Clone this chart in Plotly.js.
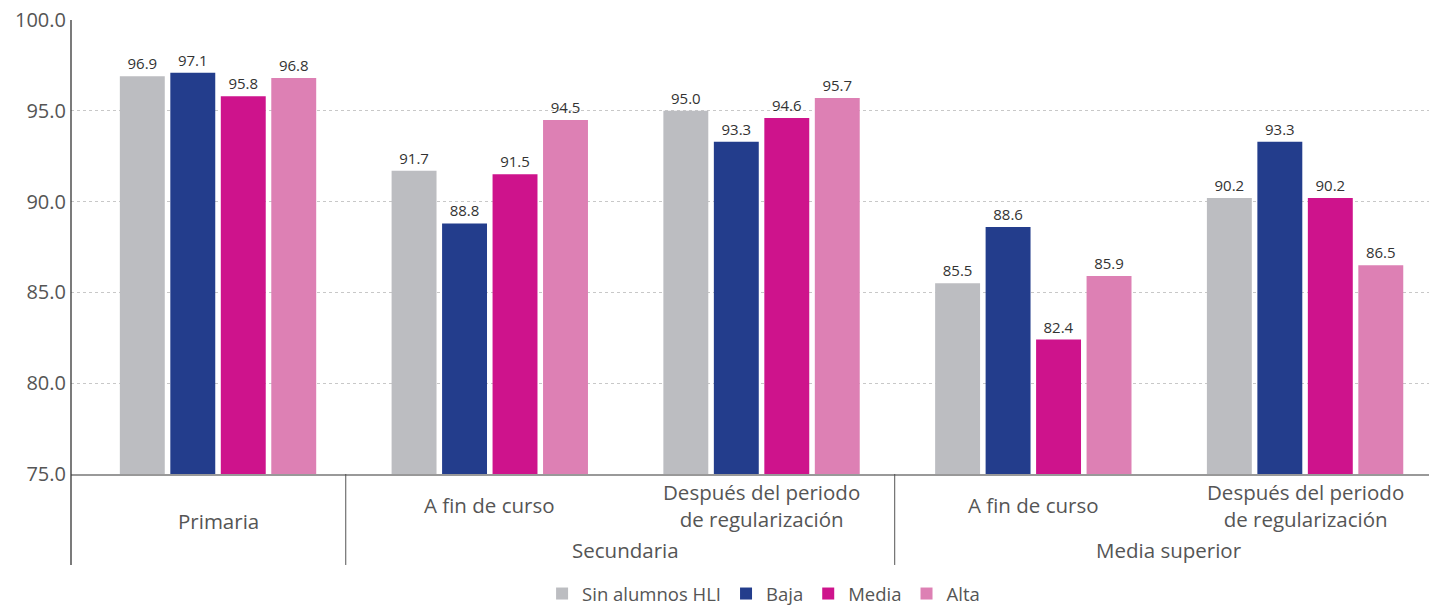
<!DOCTYPE html>
<html>
<head>
<meta charset="utf-8">
<script src="https://cdn.plot.ly/plotly-3.0.1.min.js"></script>
<style>html,body{margin:0;padding:0;background:#fff}#chart{width:1429px;height:613px}</style>
</head>
<body>
<div id="chart"></div>
<script>
// Category ids (unique) and their displayed labels
const categories = ["Primaria", "Secundaria|A fin de curso", "Secundaria|Después", "Media superior|A fin de curso", "Media superior|Después"];
const subLabels = ["Primaria", "A fin de curso", "Después del periodo<br>de regularización", "A fin de curso", "Después del periodo<br>de regularización"];
const groupLabels = ["Secundaria", "Media superior"];
const seriesNames = ["Sin alumnos HLI", "Baja", "Media", "Alta"];
const sinAlumnos = [96.9, 91.7, 95.0, 85.5, 90.2];
const baja       = [97.1, 88.8, 93.3, 88.6, 93.3];
const media      = [95.8, 91.5, 94.6, 82.4, 90.2];
const alta       = [96.8, 94.5, 95.7, 85.9, 86.5];
const yTicks = [75, 80, 85, 90, 95, 100];

const colors = ["#BCBDC1", "#233D8C", "#CE138C", "#DD80B4"];
const values = [sinAlumnos, baja, media, alta];
const FONT = "'Open Sans', sans-serif";
const LABEL_SIZE = 20.5;

const traces = values.map((v, i) => ({
  type: "bar",
  name: seriesNames[i],
  x: categories,
  y: v,
  marker: {color: colors[i]},
  text: v.map(n => n.toFixed(1)),
  textposition: "outside",
  textfont: {size: 15, color: "#333", family: FONT},
  cliponaxis: false,
  hoverinfo: "x+y"
}));

const belowLine = -0.2004;
const annotations = [];
subLabels.forEach((t, i) => {
  annotations.push({
    xref: "x", yref: "paper", x: categories[i],
    y: i === 0 ? -0.1035 : -0.069,
    text: t, showarrow: false, yanchor: "middle", xanchor: "center",
    font: {size: LABEL_SIZE, color: "#555", family: FONT}, align: "center"
  });
});
annotations.push({xref: "x", yref: "paper", x: 1.5, y: -0.167, text: groupLabels[0], showarrow: false, yanchor: "middle", font: {size: LABEL_SIZE, color: "#555", family: FONT}});
annotations.push({xref: "x", yref: "paper", x: 3.5, y: -0.167, text: groupLabels[1], showarrow: false, yanchor: "middle", font: {size: LABEL_SIZE, color: "#555", family: FONT}});

const shapes = [
  {type: "line", xref: "paper", yref: "paper", x0: 0, x1: 0, y0: 1, y1: belowLine, line: {color: "#333", width: 1.3}},
  {type: "line", xref: "x", yref: "paper", x0: 0.47, x1: 0.47, y0: 0, y1: belowLine, line: {color: "#555", width: 1}},
  {type: "line", xref: "x", yref: "paper", x0: 2.49, x1: 2.49, y0: 0, y1: belowLine, line: {color: "#555", width: 1}}
];

const layout = {
  width: 1429, height: 613,
  margin: {l: 71, r: 0, t: 20, b: 139},
  paper_bgcolor: "#fff", plot_bgcolor: "#fff",
  font: {family: FONT, color: "#555"},
  barmode: "group",
  bargap: 0.257,
  bargroupgap: 0.11,
  xaxis: {
    type: "category",
    range: [-0.541, 4.456],
    showticklabels: false,
    ticks: "",
    showgrid: false,
    showline: true, linecolor: "#999", linewidth: 2,
    zeroline: false
  },
  yaxis: {
    range: [75, 100],
    tickvals: yTicks,
    ticktext: yTicks.map(v => v.toFixed(1)),
    tickfont: {size: 20, color: "#555", family: FONT},
    ticks: "", ticklen: 0, ticklabelstandoff: 4,
    showgrid: true, gridcolor: "#c8c8c8", griddash: "dot", gridwidth: 1,
    zeroline: false, showline: false
  },
  showlegend: true,
  legend: {
    orientation: "h", x: 0.51, xanchor: "center",
    yref: "container", y: -0.008, yanchor: "bottom",
    font: {size: 18.5, color: "#555", family: FONT},
    traceorder: "normal", itemwidth: 30,
    tracegroupgap: 0
  },
  annotations: annotations,
  shapes: shapes
};

Plotly.newPlot("chart", traces, layout, {displayModeBar: false, staticPlot: true});
</script>
</body>
</html>
